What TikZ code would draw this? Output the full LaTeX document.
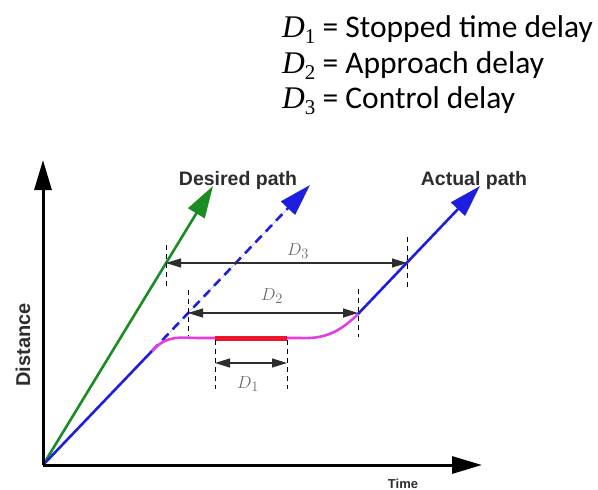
\documentclass[tikz,border=0pt]{standalone}
\usepackage{fontspec}
\setmainfont{Carlito}
\newfontfamily\arialf{Liberation Sans}
\newfontfamily\timesf{Liberation Serif}
\usetikzlibrary{arrows.meta}
\definecolor{pgreen}{RGB}{25,140,35}
\definecolor{pblue}{RGB}{30,30,225}
\definecolor{pmag}{RGB}{230,60,230}
\definecolor{pred}{RGB}{235,20,40}
\definecolor{ptext}{RGB}{45,45,45}
\definecolor{plab}{RGB}{105,105,105}
\newcommand{\legD}[1]{{\timesf\itshape D}{\timesf\raisebox{-0.22em}{\fontsize{21}{21}\selectfont #1}}}
\begin{document}
\begin{tikzpicture}[x=1pt,y=-1pt,
 axis/.style={line width=3pt,-{Triangle[length=30pt,width=17pt]}},
 pathline/.style={line width=2.6pt,-{Triangle[length=32pt,width=19pt]}},
 dimline/.style={line width=1.2pt,draw=ptext,{Triangle[length=15pt,width=9pt]}-{Triangle[length=15pt,width=9pt]}},
 ticks/.style={line width=0.9pt,draw=black,dash pattern=on 5pt off 4pt},
 pathlabel/.style={font=\arialf\bfseries\fontsize{19.5}{22}\selectfont,text=ptext,inner sep=0pt},
 dimlabel/.style={text=plab,font=\fontsize{19}{22}\selectfont,inner sep=0pt},
 legend/.style={anchor=base west,inner sep=0pt,font=\fontsize{31.5}{36}\selectfont}
]
\useasboundingbox (0,0) rectangle (598,490);

% legend
\node[legend] (l1) at (282,37) {\legD{1} = Stopped time delay};
\node[legend] (l2) at (282,73) {\legD{2} = Approach delay};
\node[legend] (l3) at (282,108) {\legD{3} = Control delay};

% key points
\coordinate (O) at (43,465);
\coordinate (ytip) at (43,160);
\coordinate (xtip) at (482,465);
\coordinate (gtip) at (213,186);
\coordinate (m0) at (152,351);
\coordinate (dtip) at (310,185);
\coordinate (m1) at (358,314);
\coordinate (atip) at (480,186);
\coordinate (r0) at (215,338);
\coordinate (r1) at (287,338);

% paths
\draw[pathline,draw=pgreen,fill=pgreen] (O) -- (gtip);
\draw[line width=2.6pt,pblue] (O) -- (m0);
\draw[pathline,draw=pblue,fill=pblue,dash pattern=on 9pt off 6pt] (m0) -- (dtip);
\draw[line width=2.6pt,pmag] (m0) .. controls (168,334) and (180,338) .. (200,338)
   -- (300,338) .. controls (322,339) and (338,334) .. (m1);
\draw[pathline,draw=pblue,fill=pblue] (m1) -- (atip);
\draw[line width=5pt,pred] (r0) -- (r1);

% axes
\draw[axis] (O) -- (ytip);
\draw[axis] (O) -- (xtip);

% dimension ticks
\coordinate (t3a) at (166,245); \coordinate (t3b) at (166,288);
\coordinate (t3c) at (407,237); \coordinate (t3d) at (407,288);
\coordinate (t2a) at (188,290); \coordinate (t2b) at (188,336);
\coordinate (t2c) at (358,289); \coordinate (t2d) at (358,337);
\coordinate (t1a) at (215,340); \coordinate (t1b) at (215,389);
\coordinate (t1c) at (287,340); \coordinate (t1d) at (287,389);
\draw[ticks] (t3a) -- (t3b);
\draw[ticks] (t3c) -- (t3d);
\draw[ticks] (t2a) -- (t2b);
\draw[ticks] (t2c) -- (t2d);
\draw[ticks] (t1a) -- (t1b);
\draw[ticks] (t1c) -- (t1d);

% dimension lines
\coordinate (d3a) at (166,263); \coordinate (d3b) at (407,263);
\coordinate (d2a) at (188,313); \coordinate (d2b) at (358,313);
\coordinate (d1a) at (215,363); \coordinate (d1b) at (287,363);
\draw[dimline] (d3a) -- (d3b);
\draw[dimline] (d2a) -- (d2b);
\draw[dimline] (d1a) -- (d1b);

% labels
\node[dimlabel] (L3) at (298,251) {$D_3$};
\node[dimlabel] (L2) at (272,296) {$D_2$};
\node[dimlabel] (L1) at (248,384) {$D_1$};
\node[pathlabel] (desired) at (238,180) {Desired path};
\node[pathlabel] (actual) at (474,180) {Actual path};
\node[pathlabel,rotate=90,font=\arialf\bfseries\fontsize{20}{22}\selectfont] (dist) at (23,345) {Distance};
\node[pathlabel,font=\arialf\bfseries\fontsize{13}{15}\selectfont] (time) at (403,484) {Time};
\end{tikzpicture}
\end{document}
